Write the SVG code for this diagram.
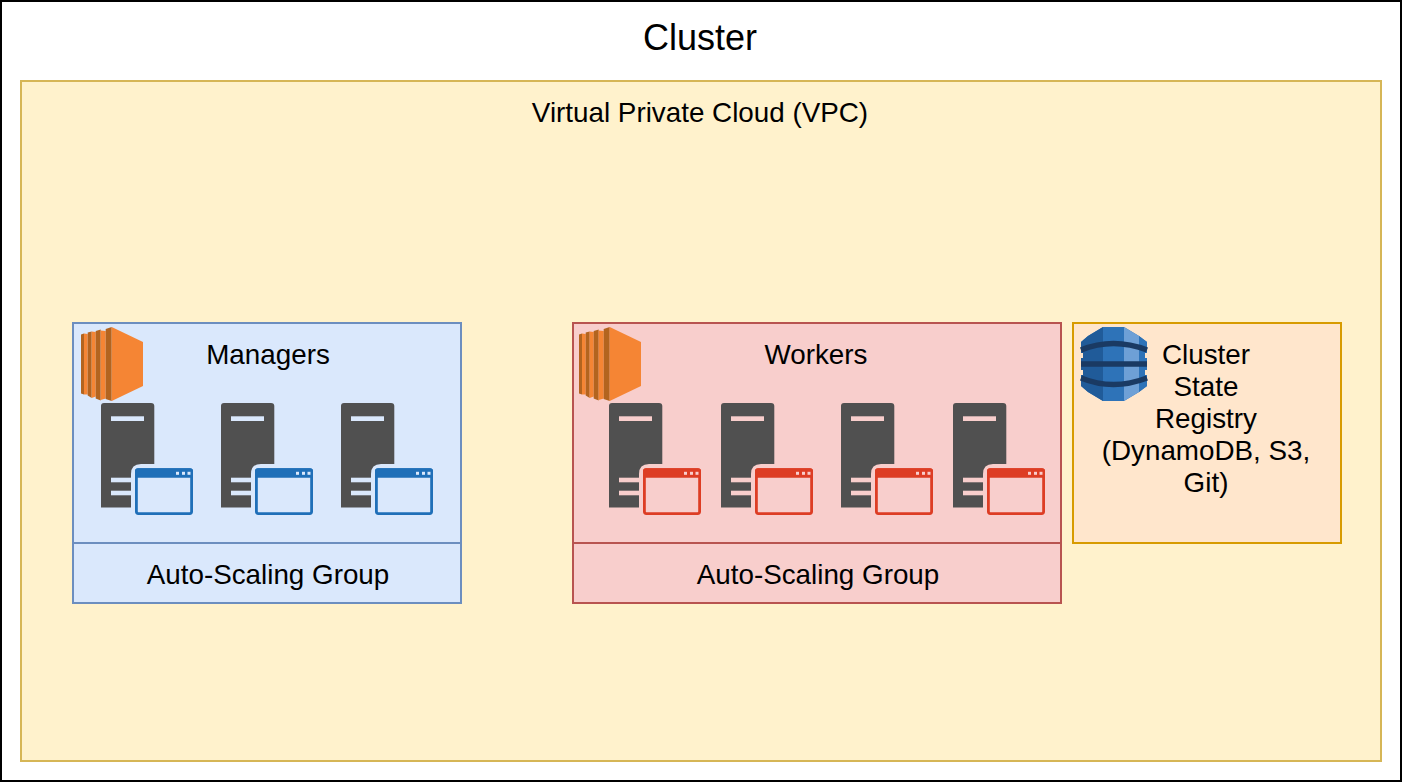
<svg xmlns="http://www.w3.org/2000/svg" width="1402" height="782" viewBox="0 0 1402 782">
<style>
text{font-family:"Liberation Sans",Arial,sans-serif;font-size:27.8px;fill:#000;text-anchor:middle}
.s{stroke-width:2}
.dark{fill:#505050}
.mgr{color:#1f6fb8;--bg:#dae8fc}
.wrk{color:#dd3d24;--bg:#f8cecc}
</style>
<defs>
<g id="ec2">
<path d="M0 7.500L3 6.500V67.500L0 66.500Z" fill="#b3641f"/><path d="M3 6.500L6.700 7V67.500L3 67.500Z" fill="#f58534"/>
<path d="M6.700 5.500L10.700 4.500V71L6.700 68.500Z" fill="#b3641f"/><path d="M10.700 4.500L14.700 5V69.500L10.700 71Z" fill="#f58534"/>
<path d="M14.700 4L19.700 2.500V73.500L14.700 71.500Z" fill="#b3641f"/><path d="M19.700 3.500L24.700 4V71.500L19.700 73Z" fill="#f58534"/>
<path d="M24.700 2L30.700 0V74L24.700 72Z" fill="#b3641f"/>
<path d="M30.700 0L62 15V59L30.700 74Z" fill="#f58534"/>
</g>
<g id="srv">
<path class="dark" d="M3 0H50Q53.300 0 53.300 3V61H40Q30 61 30 71V104.500H0V3Q0 0 3 0Z"/>
<rect x="10" y="13.300" width="33" height="4.700" fill="var(--bg)"/>
<rect x="10" y="74.700" width="20" height="4.600" fill="var(--bg)"/>
<rect x="10" y="87.700" width="20" height="4.600" fill="var(--bg)"/>
<rect x="35.400" y="66.700" width="55.200" height="43.900" rx="2" fill="none" stroke="currentColor" stroke-width="2.800"/>
<path d="M34 74.700V68Q34 65.300 37 65.300H89Q92 65.300 92 68V74.700Z" fill="currentColor"/>
<rect x="75" y="68.800" width="3" height="3" fill="var(--bg)"/><rect x="81" y="68.800" width="3" height="3" fill="var(--bg)"/><rect x="86.500" y="68.800" width="3" height="3" fill="var(--bg)"/>
</g>
</defs>
<g id="connectors"/>
<g id="cluster"><rect x="1" y="1" width="1400" height="780" fill="#fff" stroke="#000" class="s"/><text x="700" y="50" style="font-size:36px">Cluster</text></g>
<g id="vpc"><rect x="21" y="81" width="1360" height="680" fill="#fff2cc" stroke="#d6b656" class="s"/><text x="700" y="122">Virtual Private Cloud (VPC)</text></g>
<g id="managers" class="mgr">
<rect x="73" y="323" width="388" height="280" fill="#dae8fc" stroke="#6c8ebf" class="s"/>
<path d="M73 543H461" stroke="#6c8ebf" class="s" fill="none"/>
<use href="#ec2" x="81" y="327"/>
<text x="268" y="364">Managers</text>
<use href="#srv" x="101" y="403"/><use href="#srv" x="221" y="403"/><use href="#srv" x="341" y="403"/>
<text x="268" y="584">Auto-Scaling Group</text>
</g>
<g id="workers" class="wrk">
<rect x="573" y="323" width="488" height="280" fill="#f8cecc" stroke="#b85450" class="s"/>
<path d="M573 543H1061" stroke="#b85450" class="s" fill="none"/>
<use href="#ec2" x="579" y="327"/>
<text x="816" y="364">Workers</text>
<use href="#srv" x="609" y="403"/><use href="#srv" x="721" y="403"/><use href="#srv" x="841" y="403"/><use href="#srv" x="953" y="403"/>
<text x="818" y="584">Auto-Scaling Group</text>
</g>
<g id="registry">
<rect x="1073" y="323" width="268" height="220" fill="#ffe6cc" stroke="#d79b00" class="s"/>
<path d="M1081 342L1088 336L1103 327H1124L1139 336L1147 342V386L1139 392L1124 401H1103L1088 392L1081 386Z" fill="#2e73b8"/>
<path d="M1081 342L1088 336L1103 327V401L1088 392L1081 386Z" fill="#205b99"/>
<path d="M1124 327L1139 336V392L1124 401Z" fill="#6ea0d6"/>
<path d="M1139 336L1147 342V386L1139 392Z" fill="#2e73b8"/>
<path d="M1081 350Q1113 337 1147 350M1081 364H1147M1081 378Q1113 391 1147 378" fill="none" stroke="#1a3a63" stroke-width="5.500"/>
<path d="M1081 353H1083V358H1081ZM1145 353H1147V358H1145ZM1081 370H1083V375H1081ZM1145 370H1147V375H1145Z" fill="#ffe6cc"/>
<text x="1206" y="364">Cluster</text>
<text x="1206" y="396">State</text>
<text x="1206" y="428">Registry</text>
<text x="1206" y="460">(DynamoDB, S3,</text>
<text x="1206" y="492">Git)</text>
</g>
</svg>
